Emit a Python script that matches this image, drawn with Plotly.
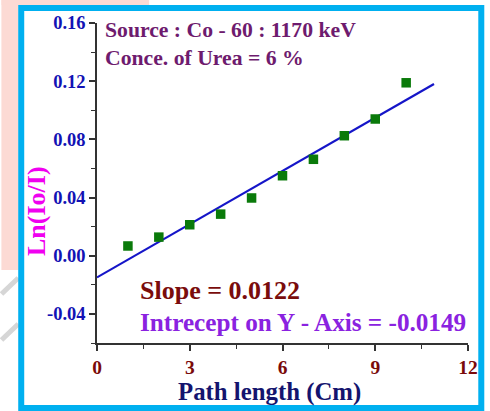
import plotly.graph_objects as go

# Measured attenuation data
path_length = [1, 2, 3, 4, 5, 6, 7, 8, 9, 10]
ln_ratio = [0.0067, 0.0128, 0.0213, 0.0286, 0.0397, 0.0550, 0.0663, 0.0825, 0.0940, 0.1189]

# Linear fit parameters
slope = 0.0122
intercept = -0.0149
fit_x = [0, 10.9]
fit_y = [slope * x + intercept for x in fit_x]

x_ticks = [0, 3, 6, 9, 12]
y_ticks = [-0.04, 0.00, 0.04, 0.08, 0.12, 0.16]

W, H = 490, 411
ML, MR, MT, MB = 97, 16, 23, 68
PW, PH = W - ML - MR, H - MT - MB


def px(x):
    return (x - ML) / PW


def py(y):
    return (H - MB - y) / PH


SERIF = "Liberation Serif"

fig = go.Figure()
fig.add_trace(go.Scatter(
    x=fit_x, y=fit_y, mode="lines",
    line=dict(color="#1515C8", width=2.2), showlegend=False, hoverinfo="skip"))
fig.add_trace(go.Scatter(
    x=path_length, y=ln_ratio, mode="markers",
    marker=dict(symbol="square", size=9.5, color="#0A7A0A",
                line=dict(width=0)), showlegend=False))

PINK = "#FCDAD4"
GREY = "#D6D6D6"
shapes = [
    # soft pink backdrop outside the frame
    dict(type="line", xref="paper", yref="paper", x0=px(8.5), x1=px(8.5),
         y0=py(270), y1=py(0), line=dict(color=PINK, width=17), layer="below"),
    dict(type="line", xref="paper", yref="paper", x0=px(0), x1=px(150),
         y0=py(2.5), y1=py(2.5), line=dict(color=PINK, width=5), layer="below"),
    dict(type="line", xref="paper", yref="paper", x0=px(0), x1=px(17),
         y0=py(294), y1=py(278), line=dict(color=GREY, width=5), layer="below"),
    dict(type="line", xref="paper", yref="paper", x0=px(0), x1=px(17),
         y0=py(340), y1=py(324), line=dict(color=GREY, width=5), layer="below"),
    # framed panel
    dict(type="rect", xref="paper", yref="paper", x0=px(20), x1=px(487.5),
         y0=py(408), y1=py(8), fillcolor="rgba(0,0,0,0)",
         line=dict(color="#00B0F0", width=6), layer="below"),
]

annotations = [
    dict(text="Source : Co - 60 : 1170 keV", x=px(103), y=py(30),
         font=dict(color="#6E1B6E", size=21.7)),
    dict(text="Conce. of Urea = 6 %", x=px(103), y=py(58),
         font=dict(color="#6E1B6E", size=21.7)),
    dict(text="Slope = 0.0122", x=px(139), y=py(290),
         font=dict(color="#7A0C0C", size=26)),
    dict(text="Intrecept on Y - Axis = -0.0149", x=px(139), y=py(322),
         font=dict(color="#8A22E0", size=25.2)),
    dict(text="Path length (Cm)", x=px(272), y=py(392), xanchor="center",
         font=dict(color="#14146E", size=24.8)),
    dict(text="Ln(Io/I)", x=px(35), y=py(211), xanchor="center", textangle=-90,
         font=dict(color="#F000F0", size=26)),
]
for a in annotations:
    a.setdefault("xanchor", "left")
    a.update(xref="paper", yref="paper", yanchor="middle", showarrow=False)
    a["font"].update(family=SERIF, weight="bold")

fig.update_layout(
    width=W, height=H,
    margin=dict(l=ML, r=MR, t=MT, b=MB, pad=0),
    paper_bgcolor="white", plot_bgcolor="rgba(0,0,0,0)",
    shapes=shapes, annotations=annotations,
    xaxis=dict(
        range=[0, 12], tickvals=x_ticks, ticktext=[str(v) for v in x_ticks],
        showgrid=False, zeroline=False, showline=True, linecolor="#333333",
        linewidth=1.5, ticks="outside", ticklen=6, tickwidth=1.5, tickcolor="#333333",
        minor=dict(tickvals=[1.5, 4.5, 7.5, 10.5], ticks="outside", ticklen=4,
                   tickwidth=1.2, tickcolor="#333333"),
        tickfont=dict(family=SERIF, size=19.5, color="#7A0A0A", weight="bold"),
    ),
    yaxis=dict(
        range=[-0.06, 0.16], tickvals=y_ticks, ticktext=[f"{v:.2f}" for v in y_ticks],
        showgrid=False, zeroline=False, showline=True, linecolor="#333333",
        linewidth=1.5, ticks="outside", ticklen=6, tickwidth=1.5, tickcolor="#333333",
        minor=dict(tickvals=[-0.06, -0.02, 0.02, 0.06, 0.10, 0.14], ticks="outside",
                   ticklen=4, tickwidth=1.2, tickcolor="#333333"),
        tickfont=dict(family=SERIF, size=18.5, color="#1212B4", weight="bold"),
    ),
)

fig.write_html("out.html")
